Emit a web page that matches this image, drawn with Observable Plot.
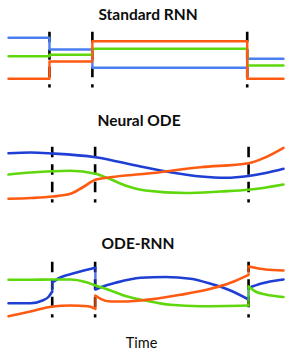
<!DOCTYPE html>
<html>
<head>
<meta charset="utf-8">
<script src="https://cdn.jsdelivr.net/npm/d3@7"></script>
<script src="https://cdn.jsdelivr.net/npm/@observablehq/plot@0.6"></script>
<style>
  html, body { margin: 0; padding: 0; background: #fff; }
  #root { position: relative; width: 291px; height: 357px; overflow: hidden; background: #fff; }
  .panel { position: absolute; left: 0; width: 291px; height: 70px; }
  .title { position: absolute; font-family: Lato, "Open Sans", sans-serif; font-weight: bold; font-size: 15.5px; line-height: 14px; white-space: nowrap; color: #0d0d0d; transform: translateX(-50%); }
  .xlabel { position: absolute; font-family: Lato, "Open Sans", sans-serif; font-size: 14.5px; line-height: 14px; white-space: nowrap; color: #0d0d0d; transform: translateX(-50%); }
</style>
</head>
<body>
<div id="root"></div>
<script>
// ---- Data ----
const titles = ["Standard RNN", "Neural ODE", "ODE-RNN"];
const xLabel = "Time";

// observation times (time axis 0..100)
const rnnObs = [14.9, 30.5, 86.8];
const odeObs = [15.9, 31.5, 87.3];

// Standard RNN: hidden state held constant between observations
const rnnT      = [0, 14.9, 30.5, 86.8, 100];
const rnnBlue   = [57.7, 46.0, 27.7, 36.7, 36.7];
const rnnGreen  = [39.3, 40.7, 46.7, 30.0, 30.0];
const rnnOrange = [16.7, 34.0, 54.3, 16.7, 16.7];

// Neural ODE: continuous trajectories [time, value]
const nodeBlue = [[0,57.3],[8,58],[16,57],[31.6,53.3],[48,44],[58.9,38.3],[70,34],[79,32.7],[87.3,34.5],[93.5,37.5],[100,41.7]];
const nodeGreen = [[0,36],[8,38],[16,39.3],[22.5,39.7],[31.6,36.7],[37.1,31.2],[42.5,25],[49.8,20],[64.4,17.5],[77.1,19],[87.3,20.7],[100,26]];
const nodeOrange = [[0,11.7],[8,12.5],[16,14],[22.5,16.7],[26.9,23],[31.6,30.7],[37.1,33.3],[49.8,36.7],[69.8,43.3],[87.3,47.3],[93.5,53.3],[100,62.7]];

// ODE-RNN: continuous pieces, reset at observations [time, value]
const odernnBlue = [
  [[0,22.3],[8,22.3],[12.4,25],[14.5,28.5],[15.9,34]],
  [[15.9,43],[18.8,48],[24.4,52.7],[31.6,57.7]],
  [[31.6,36],[33.5,38.3],[38.9,42.7],[48,47.7],[57.1,48.5],[66.2,46.7],[73.5,41.7],[80.7,35],[87.3,26]],
  [[87.3,37.5],[91.6,41.7],[100,46]]
];
const odernnGreen = [
  [[0,45.7],[8,45.8],[16,46],[22.5,46],[28,43.5],[31.6,40],[37.1,35],[42.5,29.5],[49.8,25],[58.9,20.7],[69.8,19.3],[87.3,20]],
  [[87.3,39],[89.8,34],[93.5,31],[100,28.5]]
];
const odernnOrange = [
  [[0,9.3],[8,14],[16,19],[22.5,20],[29,19.3],[31.6,16.7]],
  [[31.6,30],[33.5,26.7],[37.1,24],[42.5,24],[48,25],[62.5,30.7],[73.5,36.7],[80.7,42.7],[87.3,50.7]],
  [[87.3,59],[93.5,56],[100,55]]
];

// ---- Styles ----
const colRnnBlue = "#4a7ff2";
const colBlue = "#1f3fd4";
const colGreen = "#5ed80c";
const colOrange = "#ff5a12";

const root = document.getElementById("root");

function basePlot(marks) {
  return Plot.plot({
    width: 291, height: 70,
    marginLeft: 8, marginRight: 8, marginTop: 0, marginBottom: 0,
    x: {domain: [0, 100], axis: null},
    y: {domain: [0, 70], axis: null},
    marks
  });
}
function dashes(obs) {
  return Plot.ruleX(obs, {x: d => d, y1: 63.3, y2: 7.5, stroke: "#000", strokeWidth: 2.6, strokeDasharray: "10.5,7"});
}
function pieces(segs, name) {
  const rows = [];
  segs.forEach((s, k) => s.forEach(([t, v]) => rows.push({t, v, seg: name + k})));
  return rows;
}
function jumps(segs) {
  const out = [];
  for (let k = 1; k < segs.length; k++) {
    const a = segs[k - 1][segs[k - 1].length - 1], b = segs[k][0];
    out.push({t1: a[0], v1: a[1], t2: b[0], v2: b[1]});
  }
  return out;
}
function addPanel(top, svg) {
  const d = document.createElement("div");
  d.className = "panel";
  d.style.top = top + "px";
  d.appendChild(svg);
  root.appendChild(d);
}
function addText(cls, txt, cx, top) {
  const d = document.createElement("div");
  d.className = cls;
  d.textContent = txt;
  d.style.left = cx + "px";
  d.style.top = top + "px";
  root.appendChild(d);
}

// Panel 1
const rnnRows = rnnT.map((t, i) => ({t, blue: rnnBlue[i], green: rnnGreen[i], orange: rnnOrange[i]}));
addPanel(25, basePlot([
  dashes(rnnObs),
  Plot.line(rnnRows, {x: "t", y: "blue", curve: "step-after", stroke: colRnnBlue, strokeWidth: 2.4}),
  Plot.line(rnnRows, {x: "t", y: "green", curve: "step-after", stroke: colGreen, strokeWidth: 2.4}),
  Plot.line(rnnRows, {x: "t", y: "orange", curve: "step-after", stroke: colOrange, strokeWidth: 2.4})
]));

// Panel 2
addPanel(140, basePlot([
  dashes(odeObs),
  Plot.line(nodeBlue, {x: d => d[0], y: d => d[1], curve: "monotone-x", stroke: colBlue, strokeWidth: 2.6}),
  Plot.line(nodeGreen, {x: d => d[0], y: d => d[1], curve: "monotone-x", stroke: colGreen, strokeWidth: 2.6}),
  Plot.line(nodeOrange, {x: d => d[0], y: d => d[1], curve: "monotone-x", stroke: colOrange, strokeWidth: 2.6})
]));

// Panel 3
const series3 = [[odernnBlue, colBlue, "b"], [odernnGreen, colGreen, "g"], [odernnOrange, colOrange, "o"]];
const marks3 = [dashes(odeObs)];
series3.forEach(([segs, col, name]) => {
  marks3.push(Plot.link(jumps(segs), {x1: "t1", y1: "v1", x2: "t2", y2: "v2", stroke: col, strokeWidth: 2.4, strokeOpacity: 0.75}));
  marks3.push(Plot.line(pieces(segs, name), {x: "t", y: "v", z: "seg", curve: "monotone-x", stroke: col, strokeWidth: 2.6}));
});
addPanel(255, basePlot(marks3));

// Titles and label
addText("title", titles[0], 148, 7);
addText("title", titles[1], 139, 113);
addText("title", titles[2], 138, 236.3);
addText("xlabel", xLabel, 141.5, 336.4);
</script>
</body>
</html>
